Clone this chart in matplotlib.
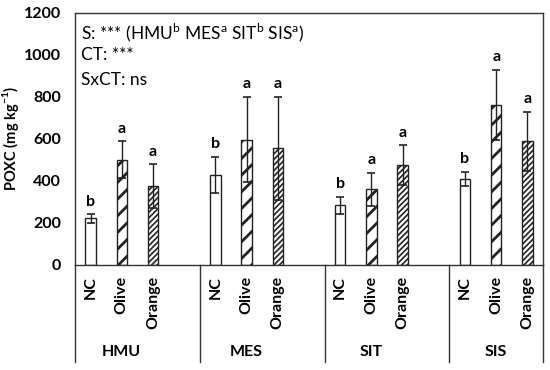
import numpy as np
import matplotlib as mpl
mpl.use('Agg')
import matplotlib.pyplot as plt

plt.rcParams['font.family'] = ['Lato', 'DejaVu Sans']
plt.rcParams['mathtext.fontset'] = 'custom'
plt.rcParams['mathtext.rm'] = 'Lato'
plt.rcParams['mathtext.bf'] = 'Lato:bold'
plt.rcParams['hatch.linewidth'] = 1.0

# data
sites = ['HMU', 'MES', 'SIT', 'SIS']
treat = ['NC', 'Olive', 'Orange']
poxc = [[222, 502, 375],
        [430, 597, 555],
        [285, 360, 475],
        [410, 762, 590]]
err = [[20, 88, 105],
       [85, 203, 245],
       [40, 80, 95],
       [35, 168, 140]]
letters = [['b', 'a', 'a'],
           ['b', 'a', 'a'],
           ['b', 'a', 'a'],
           ['b', 'a', 'a']]
hatches = ['', '//', '//////']
hatch_lw = [1.0, 2.0, 1.2]

fig = plt.figure(figsize=(5.5, 3.7), dpi=100)
ax = fig.add_axes([75/550, 105/370, 468/550, 252/370])
edge = '#222222'

for g in range(len(sites)):
    for j in range(len(treat)):
        x = g*4 + j
        b = ax.bar(x, poxc[g][j], width=0.33, color='white', edgecolor=edge,
                   linewidth=1.0, hatch=hatches[j], zorder=2)
        for p in b:
            if hasattr(p, 'set_hatch_linewidth'):
                p.set_hatch_linewidth(hatch_lw[j])
        ax.errorbar(x, poxc[g][j], yerr=err[g][j], fmt='none', ecolor=edge,
                    elinewidth=1.0, capsize=3, capthick=1.2, zorder=3)
        ax.annotate(letters[g][j], (x, poxc[g][j] + err[g][j]), xytext=(0, 4),
                    textcoords='offset points', ha='center', va='bottom',
                    fontsize=11.5, fontweight='bold')

ax.set_xlim(-0.5, 14.5)
ax.set_ylim(0, 1200)
ax.set_yticks(np.arange(0, 1201, 200))
ax.tick_params(axis='y', length=0, labelsize=11.5, pad=10)
for t in ax.get_yticklabels():
    t.set_fontweight('bold')
ax.set_xticks([])
for s in ax.spines.values():
    s.set_color('#333333')
    s.set_linewidth(1.0)
ax.set_ylabel(r'POXC (mg kg$^{\mathbf{-1}}$)', fontsize=10.5, fontweight='bold', labelpad=2)

trans = ax.get_xaxis_transform()
for g in range(len(sites)):
    for j in range(len(treat)):
        ax.text(g*4 + j, -0.045, treat[j], transform=trans, rotation=90,
                ha='center', va='top', fontsize=11.5, fontweight='bold')
    ax.text(g*4 + 1.0, -0.345, sites[g], transform=trans,
            ha='center', va='center', fontsize=11.5, fontweight='bold')
for xs in [-0.5, 3.5, 7.5, 11.5, 14.5]:
    ax.plot([xs, xs], [0, -0.385], transform=trans, color='#333333', lw=1.0,
            clip_on=False)

ax.text(0.012, 0.965, r'S: *** (HMU$^{\mathrm{b}}$ MES$^{\mathrm{a}}$ SIT$^{\mathrm{b}}$ SIS$^{\mathrm{a}}$)',
        transform=ax.transAxes, ha='left', va='top', fontsize=12.5)
ax.text(0.012, 0.865, 'CT: ***', transform=ax.transAxes, ha='left', va='top', fontsize=12.5)
ax.text(0.012, 0.765, 'SxCT: ns', transform=ax.transAxes, ha='left', va='top', fontsize=12.5)

fig.savefig('out.png', dpi=100)
